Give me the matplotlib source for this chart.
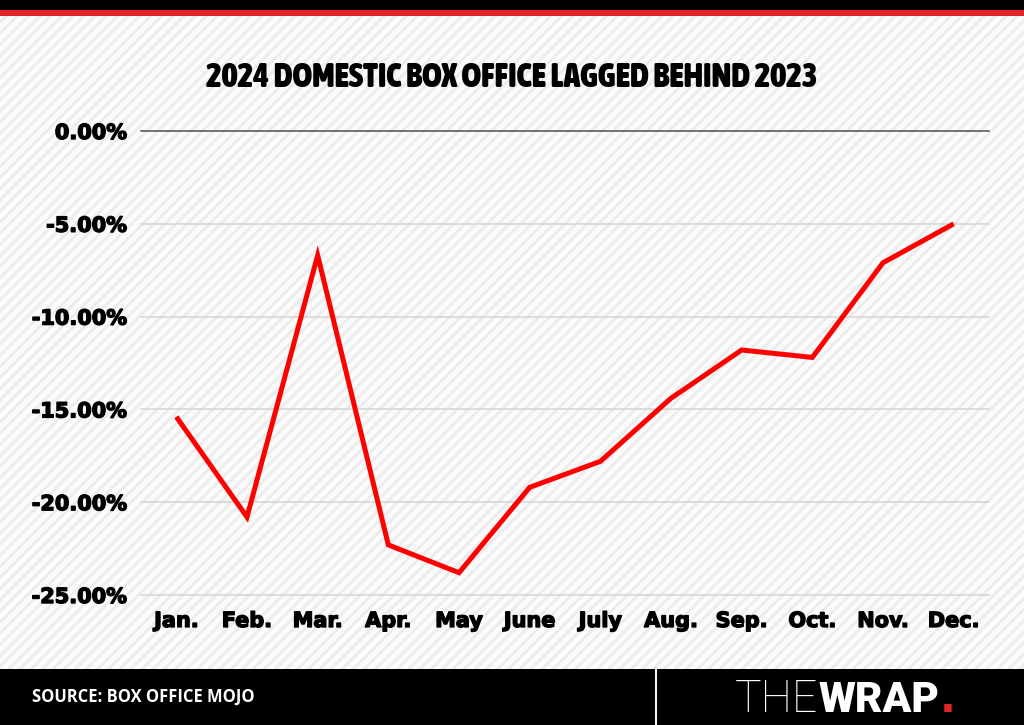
import matplotlib
matplotlib.use('Agg')
import matplotlib.pyplot as plt
import matplotlib.patheffects as pe
from matplotlib import font_manager as fm
from matplotlib.patches import Rectangle
from matplotlib.lines import Line2D
from matplotlib.ticker import FixedLocator, FuncFormatter

# ---------------- data ----------------
months = ['Jan.', 'Feb.', 'Mar.', 'Apr.', 'May', 'June', 'July', 'Aug.',
          'Sep.', 'Oct.', 'Nov.', 'Dec.']
change_pct = [-15.4, -20.8, -6.7, -22.3, -23.8, -19.2, -17.8, -14.4,
              -11.8, -12.2, -7.1, -5.0]
yticks = [0, -5, -10, -15, -20, -25]
title_text = '2024 DOMESTIC BOX OFFICE LAGGED BEHIND 2023'
source_text = 'SOURCE: BOX OFFICE MOJO'
logo_parts = ['THE', 'WRAP', '.']

# ---------------- figure ----------------
W, H = 1024, 725
fig = plt.figure(figsize=(W / 100, H / 100), dpi=100)
fig.patch.set_facecolor('white')

plt.rcParams['hatch.linewidth'] = 2.0

def fy(py):
    return 1 - py / H

# striped background
bg = Rectangle((0, fy(669)), 1, (669 - 16) / H, transform=fig.transFigure,
               facecolor='#fbfbfb', edgecolor='#ececec', linewidth=0,
               hatch='///', zorder=-5)
fig.add_artist(bg)

# top bars
fig.add_artist(Rectangle((0, fy(9.5)), 1, 9.5 / H, transform=fig.transFigure,
                         facecolor='black', edgecolor='none', zorder=-4))
fig.add_artist(Rectangle((0, fy(16)), 1, 6.5 / H, transform=fig.transFigure,
                         facecolor='#e1232a', edgecolor='none', zorder=-4))
# footer
fig.add_artist(Rectangle((0, 0), 1, 56 / H, transform=fig.transFigure,
                         facecolor='black', edgecolor='none', zorder=-4))
fig.add_artist(Line2D([656 / W, 656 / W], [0, 56 / H], transform=fig.transFigure,
                      color='white', lw=1.4, zorder=-3))

# ---------------- axes ----------------
ax = fig.add_axes([141 / W, fy(595), (989 - 141) / W, (595 - 131) / H])
ax.set_facecolor('none')
ax.set_xlim(-0.5, len(months) - 0.5)
ax.set_ylim(min(yticks), max(yticks))
for s in ax.spines.values():
    s.set_visible(False)

for v in yticks:
    ax.axhline(v, color='#4d4d4d' if v == 0 else '#d4d4d4', lw=1.1,
               clip_on=False, zorder=1)

ax.plot(range(len(months)), change_pct, color='#ff0000', lw=3.6,
        solid_joinstyle='miter', solid_capstyle='butt', zorder=3, clip_on=False)

ax.yaxis.set_major_locator(FixedLocator(yticks))
ax.yaxis.set_major_formatter(FuncFormatter(lambda v, p: f'{v:.2f}%'))
ax.set_xticks(range(len(months)))
ax.set_xticklabels(months)
ax.tick_params(axis='both', length=0, labelsize=15.0, colors='black')
ax.tick_params(axis='y', pad=10)
ax.tick_params(axis='x', pad=11.5)
heavy = [pe.withStroke(linewidth=1.0, foreground='black')]
for lab in ax.get_xticklabels() + ax.get_yticklabels():
    lab.set_fontweight('bold')
    lab.set_family('DejaVu Sans')
    lab.set_path_effects(heavy)

# ---------------- title ----------------
def stretch_num(s):
    if isinstance(s, (int, float)):
        return s
    m = {'ultra-condensed': 100, 'extra-condensed': 200, 'condensed': 300,
         'semi-condensed': 400, 'normal': 500, 'semi-expanded': 600,
         'expanded': 700, 'extra-expanded': 800, 'ultra-expanded': 900}
    return m.get(str(s), 500)

def weight_num(w):
    if isinstance(w, (int, float)):
        return w
    m = {'ultralight': 100, 'light': 300, 'normal': 400, 'regular': 400,
         'book': 400, 'medium': 500, 'roman': 400, 'semibold': 600,
         'demibold': 600, 'demi': 600, 'bold': 700, 'heavy': 800,
         'extra bold': 800, 'black': 900}
    return m.get(str(w), 400)

cands = []
for f in fm.fontManager.ttflist:
    nm = f.name
    if 'CJK' in nm or 'Mono' in nm or 'Serif' in nm:
        continue
    st = stretch_num(f.stretch)
    if 'Narrow' in nm or 'Condensed' in nm or 'Condensed' in f.fname:
        st = min(st, 300)
    wt = weight_num(f.weight)
    fl = f.fname.lower()
    if 'black' in fl:
        wt = max(wt, 900)
    elif 'extrabold' in fl:
        wt = max(wt, 800)
    elif 'bold' in fl:
        wt = max(wt, 700)
    if 'italic' in fl or 'oblique' in fl:
        continue
    if wt >= 700 and st <= 400:
        cands.append((abs(st - 250) // 100, -wt, f.fname))
cands.sort()
if cands:
    title_fp = fm.FontProperties(fname=cands[0][2])
else:
    title_fp = fm.FontProperties(family='DejaVu Sans', weight='bold')

title_fp.set_size(30)
t = fig.text(0.5, fy(87), title_text, ha='center', va='baseline',
             fontproperties=title_fp, color='black')
renderer = fig.canvas.get_renderer()
w = t.get_window_extent(renderer).width
size = 30 * 612 / w
size = max(18, min(36, size))
title_fp.set_size(size)
t.set_fontproperties(title_fp)

# ---------------- footer texts ----------------
fig.text(32 / W, fy(702), source_text, color='white', fontsize=11.9,
         fontweight='bold', family=['Open Sans', 'DejaVu Sans'], va='baseline')

x0 = 735
base = fy(712.3)
l1 = fig.text(x0 / W, base, logo_parts[0], color='white', fontsize=32,
              family=['Roboto', 'DejaVu Sans'], fontweight=200, va='baseline')
bb = l1.get_window_extent(renderer)
l2 = fig.text(bb.x1 / W, base, logo_parts[1], color='white', fontsize=30.5,
              family=['Roboto', 'DejaVu Sans'], fontweight=900, va='baseline')
bb2 = l2.get_window_extent(renderer)
fig.text((bb2.x1 + 0.5) / W, base, logo_parts[2], color='#e1232a', fontsize=30,
         family=['DejaVu Sans'], fontweight='bold', va='baseline')

fig.savefig('out.png', dpi=100, facecolor=fig.get_facecolor())
